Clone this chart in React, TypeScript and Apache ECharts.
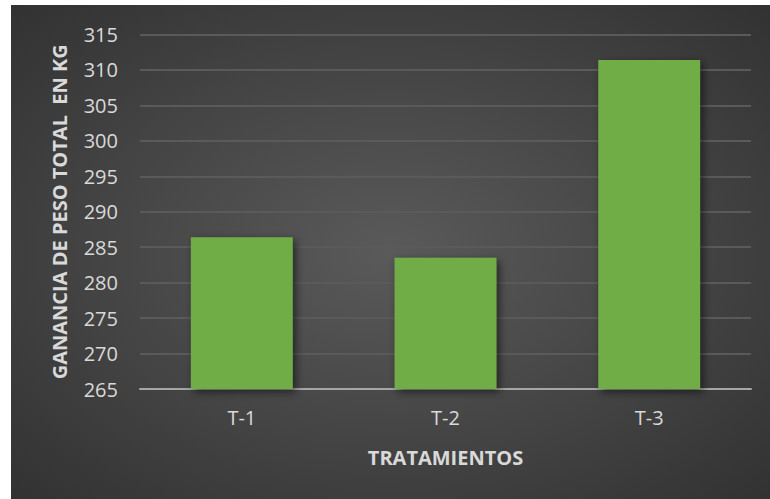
import React, { useEffect, useRef } from "react";
import * as echarts from "echarts";

const categories = ["T-1", "T-2", "T-3"];
const values = [286.4, 283.5, 311.4];
const yMin = 265;
const yMax = 315;
const yStep = 5;

export default function App() {
  const ref = useRef<HTMLDivElement>(null);
  useEffect(() => {
    document.body.style.margin = "0";
    const chart = echarts.init(ref.current!, undefined, { renderer: "svg" });
    chart.setOption({
      animation: false,
      backgroundColor: "#ffffff",
      graphic: [
        {
          type: "rect",
          z: -10,
          silent: true,
          shape: { x: 11, y: 5, width: 759, height: 494 },
          style: {
            fill: {
              type: "radial",
              x: 0.5,
              y: 0.5,
              r: 0.95,
              colorStops: [
                { offset: 0, color: "#5a5a5a" },
                { offset: 1, color: "#242424" },
              ],
            },
          },
        },
      ],
      grid: { left: 140, right: 19, top: 34.5, bottom: 110 },
      xAxis: {
        type: "category",
        data: categories,
        axisLine: { lineStyle: { color: "#a6a6a6", width: 2 } },
        axisTick: { show: false },
        axisLabel: { color: "#d9d9d9", fontSize: 20, fontFamily: "Open Sans", margin: 18 },
        name: "TRATAMIENTOS",
        nameLocation: "middle",
        nameGap: 58,
        nameTextStyle: { color: "#d9d9d9", fontSize: 20, fontWeight: "bold", fontFamily: "Open Sans" },
      },
      yAxis: {
        type: "value",
        min: yMin,
        max: yMax,
        interval: yStep,
        axisLine: { show: false },
        axisTick: { show: false },
        splitLine: { lineStyle: { color: "#5a5a5a", width: 2 } },
        axisLabel: { color: "#d9d9d9", fontSize: 20, fontFamily: "Open Sans", margin: 22 },
        name: "GANANCIA DE PESO TOTAL  EN KG",
        nameLocation: "middle",
        nameGap: 71,
        nameTextStyle: { color: "#d9d9d9", fontSize: 20, fontWeight: "bold", fontFamily: "Open Sans" },
      },
      series: [
        {
          type: "bar",
          data: values,
          barWidth: "50%",
          itemStyle: {
            color: "#70ad47",
            shadowColor: "rgba(0,0,0,0.55)",
            shadowBlur: 8,
            shadowOffsetX: 3,
            shadowOffsetY: 3,
          },
        },
      ],
    });
    return () => chart.dispose();
  }, []);
  return <div ref={ref} style={{ width: 770, height: 499 }} />;
}
